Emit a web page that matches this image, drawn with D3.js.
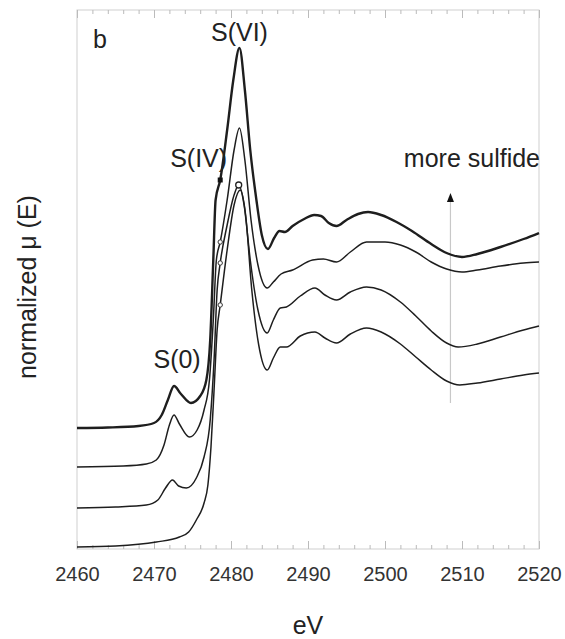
<!DOCTYPE html>
<html>
<head>
<meta charset="utf-8">
<script src="https://cdn.jsdelivr.net/npm/d3@7"></script>
<style>
  body { margin: 0; background: #fff; }
  svg text { font-family: "Liberation Sans", Arial, sans-serif; fill: #222; }
  .tick text { font-size: 20px; fill: #333; }
  .annot { font-size: 25px; }
</style>
</head>
<body>
<svg id="xanes" width="565" height="639"></svg>
<script>
// energies (eV) and normalized mu(E), offsets already included
const energyA = [2460,2464,2468,2470,2471,2471.8,2472.6,2473.5,2474.8,2476,2476.8,2477.3,2477.7,2478,2478.6,2479.5,2480.3,2481.1,2481.8,2482.5,2483.3,2484,2484.8,2485.6,2486.3,2487,2488,2489.5,2490.8,2491.7,2492.7,2493.7,2495,2496.5,2497.8,2499.5,2501.5,2503.5,2506,2508,2510,2512,2515,2518,2520];
const muA = [1.21,1.215,1.23,1.26,1.34,1.49,1.63,1.55,1.46,1.53,1.69,2.09,2.89,3.49,3.69,4.19,4.69,5.01,4.59,3.99,3.49,3.14,3.00,3.11,3.18,3.17,3.23,3.30,3.34,3.33,3.26,3.23,3.29,3.35,3.37,3.34,3.27,3.18,3.05,2.96,2.92,2.95,3.02,3.10,3.16];

const energyB = [2460,2466,2469,2470.3,2471.3,2472,2472.6,2473.3,2474.6,2475.6,2476.5,2477.2,2477.7,2478.1,2478.6,2479.5,2480.4,2481.1,2481.8,2482.6,2483.5,2484.7,2485.5,2486.5,2488,2490.6,2492,2493.7,2495.5,2497.6,2500,2502,2504,2506,2508,2510,2512,2515,2518,2520];
const muB = [0.82,0.83,0.85,0.89,1.04,1.24,1.34,1.25,1.12,1.19,1.39,1.69,2.29,2.89,3.07,3.49,3.99,4.21,3.89,3.29,2.84,2.61,2.67,2.75,2.79,2.89,2.90,2.87,2.97,3.07,3.07,3.04,2.97,2.87,2.80,2.77,2.79,2.83,2.86,2.87];

const energyC = [2460,2465,2469,2470.5,2471.5,2472.4,2473.2,2474.2,2475.5,2476.5,2477.3,2477.8,2478.2,2478.6,2479.5,2480.4,2481,2481.7,2482.5,2483.5,2484.7,2485.5,2486.4,2487.2,2489,2490.9,2492.2,2493.7,2495.5,2497.6,2499.5,2502,2504,2506,2508,2509.5,2512,2515,2518,2520];
const muC = [0.41,0.42,0.44,0.49,0.61,0.69,0.63,0.61,0.71,0.92,1.29,1.89,2.59,2.86,3.24,3.54,3.64,3.44,2.89,2.39,2.16,2.29,2.41,2.42,2.53,2.61,2.54,2.49,2.57,2.62,2.59,2.47,2.33,2.18,2.06,2.02,2.05,2.12,2.19,2.23];

const energyD = [2460,2465,2470.3,2473.3,2474.5,2475.5,2476.5,2477,2477.4,2477.8,2478.2,2478.6,2479.5,2480.4,2481.2,2481.9,2482.7,2483.6,2484.7,2485.5,2486.4,2487.2,2489,2490.9,2492.2,2493.7,2495.5,2497.6,2499.5,2502,2504,2506,2508,2509.7,2512,2515,2518,2520];
const muD = [0.02,0.03,0.07,0.12,0.17,0.29,0.46,0.64,1.02,1.59,2.19,2.44,2.99,3.44,3.59,3.34,2.59,2.04,1.79,1.91,2.02,2.02,2.13,2.17,2.11,2.06,2.15,2.21,2.17,2.05,1.92,1.79,1.68,1.64,1.66,1.70,1.74,1.76];

const curveWidths = [2.4, 1.5, 1.5, 1.5];
const xTicks = [2460,2470,2480,2490,2500,2510,2520];

// peak labels: [text, energy, mu]
const peakLabels = [["S(VI)", 2481.1, 5.08], ["S(IV)", 2475.8, 3.82], ["S(0)", 2473.0, 1.81]];
const arrowEnergy = 2508.5;
const arrowMu = [1.46, 3.56];

const svg = d3.select('#xanes');
const margin = { left: 77, right: 26, top: 10, bottom: 90 };
const width = +svg.attr('width');
const height = +svg.attr('height');
const innerW = width - margin.left - margin.right;
const innerH = height - margin.top - margin.bottom;

const x = d3.scaleLinear().domain([2460, 2520]).range([margin.left, margin.left + innerW]);
const y = d3.scaleLinear().domain([0, 5.39]).range([margin.top + innerH, margin.top]);

// frame
svg.append('rect')
  .attr('x', margin.left).attr('y', margin.top)
  .attr('width', innerW).attr('height', innerH)
  .attr('fill', 'none').attr('stroke', '#cfcfcf').attr('stroke-width', 1);

// bottom axis, ticks pointing inwards
const gx = svg.append('g')
  .attr('transform', `translate(0,${margin.top + innerH})`)
  .call(d3.axisBottom(x).tickValues(xTicks).tickFormat(d3.format('d')).tickSize(-8).tickPadding(18));
gx.select('.domain').remove();
gx.selectAll('.tick line').attr('stroke', '#bbb');

const gxMinor = svg.append('g')
  .attr('transform', `translate(0,${margin.top + innerH})`)
  .call(d3.axisBottom(x).ticks(30).tickFormat('').tickSize(-4));
gxMinor.select('.domain').remove();
gxMinor.selectAll('.tick line').attr('stroke', '#bbb');

// top axis
const gt = svg.append('g')
  .attr('transform', `translate(0,${margin.top})`)
  .call(d3.axisTop(x).tickValues(xTicks).tickFormat('').tickSize(-8));
gt.select('.domain').remove();
gt.selectAll('.tick line').attr('stroke', '#bbb');
const gtMinor = svg.append('g')
  .attr('transform', `translate(0,${margin.top})`)
  .call(d3.axisTop(x).ticks(30).tickFormat('').tickSize(-4));
gtMinor.select('.domain').remove();
gtMinor.selectAll('.tick line').attr('stroke', '#bbb');

// arrow guide line
svg.append('line')
  .attr('x1', x(arrowEnergy)).attr('x2', x(arrowEnergy))
  .attr('y1', y(arrowMu[0])).attr('y2', y(arrowMu[1]) + 4)
  .attr('stroke', '#c8c8c8').attr('stroke-width', 1.2);
const ax = x(arrowEnergy), ay = y(arrowMu[1]);
svg.append('path')
  .attr('d', `M${ax},${ay} L${ax - 3.5},${ay + 9} L${ax + 3.5},${ay + 9} Z`)
  .attr('fill', '#111');

// spectra
const series = [
  energyA.map((e, i) => [e, muA[i]]),
  energyB.map((e, i) => [e, muB[i]]),
  energyC.map((e, i) => [e, muC[i]]),
  energyD.map((e, i) => [e, muD[i]])
];
const line = d3.line()
  .x(d => x(d[0]))
  .y(d => y(d[1]))
  .curve(d3.curveMonotoneX);

svg.selectAll('path.spec')
  .data(series)
  .enter()
  .append('path')
  .attr('class', 'spec')
  .attr('d', line)
  .attr('fill', 'none')
  .attr('stroke', '#1e1e1e')
  .attr('stroke-width', (d, i) => curveWidths[i])
  .attr('stroke-linejoin', 'round');

// markers at the S(IV) shoulder and S(VI) peak
svg.append('rect')
  .attr('x', x(2478.6) - 2.5).attr('y', y(3.69) - 2.5)
  .attr('width', 5).attr('height', 5).attr('fill', '#111');
svg.append('circle')
  .attr('cx', x(2481.0)).attr('cy', y(3.64)).attr('r', 3)
  .attr('fill', '#fff').attr('stroke', '#222').attr('stroke-width', 1.3);
[[2478.6, 3.07], [2478.6, 2.86], [2478.6, 2.44]].forEach(p => {
  svg.append('circle')
    .attr('cx', x(p[0])).attr('cy', y(p[1])).attr('r', 2.2)
    .attr('fill', '#fff').attr('stroke', '#333').attr('stroke-width', 1);
});

// annotations
svg.selectAll('text.peak')
  .data(peakLabels)
  .enter()
  .append('text')
  .attr('class', 'annot')
  .attr('text-anchor', 'middle')
  .attr('x', d => x(d[1]))
  .attr('y', d => y(d[2]))
  .text(d => d[0]);

svg.append('text').attr('class', 'annot').attr('x', 93).attr('y', 48).text('b');
svg.append('text').attr('class', 'annot')
  .attr('text-anchor', 'end')
  .attr('x', margin.left + innerW + 1).attr('y', 167)
  .text('more sulfide');

svg.append('text').attr('class', 'annot')
  .attr('text-anchor', 'middle')
  .attr('x', margin.left + innerW / 2).attr('y', 634)
  .text('eV');

svg.append('text').attr('class', 'annot')
  .attr('text-anchor', 'middle')
  .attr('transform', 'translate(36,287) rotate(-90)')
  .text('normalized μ (E)');
</script>
</body>
</html>
